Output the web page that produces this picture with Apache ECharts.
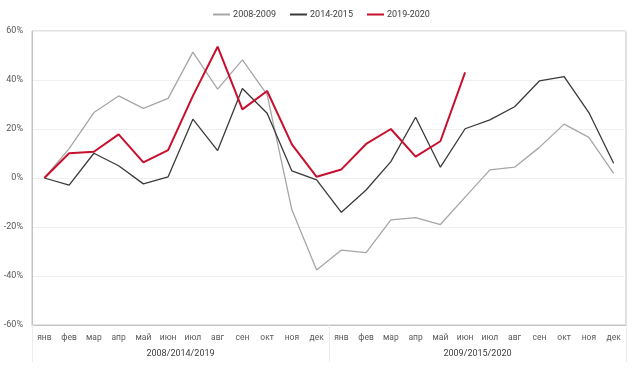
<!DOCTYPE html>
<html><head><meta charset="utf-8">
<script src="https://cdn.jsdelivr.net/npm/echarts@6/dist/echarts.min.js"></script>
<style>html,body{margin:0;padding:0;background:#fff}#c{width:643px;height:368px}</style>
</head><body><div id="c"></div>
<script>
const months = ['янв','фев','мар','апр','май','июн','июл','авг','сен','окт','ноя','дек','янв','фев','мар','апр','май','июн','июл','авг','сен','окт','ноя','дек'];
const groups = ['2008/2014/2019','2009/2015/2020'];
const s2008 = [0,12,26.7,33.5,28.4,32.5,51.4,36.3,48.2,34,-13,-37.6,-29.4,-30.5,-17.1,-16.2,-19,-7.8,3.3,4.4,12.5,22,16.6,1.9];
const s2014 = [0,-2.9,10.1,5,-2.4,0.5,24,11.2,36.5,26.4,2.9,-0.8,-14,-4.9,6.7,24.8,4.4,20.1,23.7,29.1,39.6,41.4,26.7,6];
const s2019 = [0,10.1,10.7,17.8,6.4,11.4,33.5,53.6,28,35.5,13.7,0.5,3.5,13.9,20,8.7,15,43.1];
const names = ['2008-2009','2014-2015','2019-2020'];
const colors = ['#a6a6a6','#3a3a3a','#c8102e'];
const chart = echarts.init(document.getElementById('c'), null, {renderer:'canvas'});
const font = 'Roboto, "Liberation Sans", sans-serif';
chart.setOption({
  animation:false,
  backgroundColor:'#fff',
  legend:{top:5,left:'center',itemWidth:17,itemHeight:2,itemGap:14,icon:'rect',
    textStyle:{fontSize:9,color:'#404040',fontFamily:font,padding:[0,0,0,-2]},
    data:names.map((n,i)=>({name:n,icon:'rect',itemStyle:{color:colors[i]}}))},
  grid:{left:32,right:17,top:31,bottom:43,show:true,borderColor:'#c4c4c4',borderWidth:1,containLabel:false},
  xAxis:[
    {type:'category',data:months,boundaryGap:true,position:'bottom',
     axisLine:{show:true,onZero:false,lineStyle:{color:'#c4c4c4'}},axisTick:{show:false},
     axisLabel:{interval:0,margin:8,fontSize:8.5,color:'#595959',fontFamily:font},splitLine:{show:false}},
    {type:'category',data:groups,boundaryGap:true,position:'bottom',offset:0,
     axisLine:{show:false,onZero:false},axisTick:{show:true,length:37,lineStyle:{color:'#ececec'}},
     axisLabel:{interval:0,margin:24,fontSize:9,color:'#404040',fontFamily:font},splitLine:{show:false}}
  ],
  yAxis:{type:'value',min:-60,max:60,interval:20,
    axisLine:{show:true,lineStyle:{color:'#c4c4c4'}},axisTick:{show:false},
    axisLabel:{formatter:'{value}%',margin:9,fontSize:9,color:'#595959',fontFamily:font},
    splitLine:{show:true,lineStyle:{color:'#efefef'}}},
  series:[
    {name:names[0],type:'line',data:s2008,symbol:'none',lineStyle:{color:colors[0],width:1.3},itemStyle:{color:colors[0]},z:2},
    {name:names[1],type:'line',data:s2014,symbol:'none',lineStyle:{color:colors[1],width:1.3},itemStyle:{color:colors[1]},z:3},
    {name:names[2],type:'line',data:s2019,symbol:'none',lineStyle:{color:colors[2],width:2},itemStyle:{color:colors[2]},z:4}
  ]
});
</script></body></html>
